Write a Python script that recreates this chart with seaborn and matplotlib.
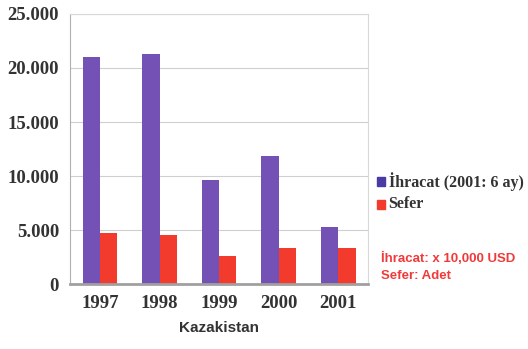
import pandas as pd
import seaborn as sns
import matplotlib.pyplot as plt

years = ["1997", "1998", "1999", "2000", "2001"]
ihracat = [21000, 21300, 9600, 11900, 5300]
sefer = [4700, 4500, 2600, 3300, 3300]
series_names = ["İhracat (2001: 6 ay)", "Sefer"]
yticks = [0, 5000, 10000, 15000, 20000, 25000]
ytick_labels = ["0", "5.000", "10.000", "15.000", "20.000", "25.000"]

df = pd.DataFrame({
    "yil": years * 2,
    "deger": ihracat + sefer,
    "seri": [series_names[0]] * len(years) + [series_names[1]] * len(years),
})

sns.set_style("white")
fig = plt.figure(figsize=(5.28, 3.49), dpi=100)
ax = fig.add_axes([0.133, 0.186, 0.564, 0.774])

palette = {series_names[0]: "#7351b5", series_names[1]: "#f23b2c"}
sns.barplot(data=df, x="yil", y="deger", hue="seri", palette=palette,
            width=0.58, saturation=1, edgecolor="none", ax=ax, legend=False)

ax.set_ylim(0, 25000)
ax.set_yticks(yticks)
ax.set_yticklabels(ytick_labels)
ax.yaxis.grid(True, color="#cfcfcf", lw=0.8)
ax.set_axisbelow(True)
for s in ["top", "right"]:
    ax.spines[s].set_color("#d8d8d8")
ax.spines["left"].set_color("#b0b0b0")
ax.spines["bottom"].set_color("#a0a0a0")
ax.spines["bottom"].set_linewidth(2)

for lab in ax.get_yticklabels() + ax.get_xticklabels():
    lab.set_fontfamily("Liberation Serif")
    lab.set_fontweight("bold")
    lab.set_fontsize(13.5)
    lab.set_color("#333333")
ax.tick_params(axis="y", length=4, color="#888888", pad=4)
ax.tick_params(axis="x", length=0, pad=8)
ax.set_ylabel("")
ax.set_xlabel("Kazakistan", fontsize=11, fontweight="bold", family="Liberation Sans",
              color="#333333", labelpad=6)

# legend
fig.patches.append(plt.Rectangle((0.714, 0.468), 0.016, 0.026, color="#4a3aa4",
                                 transform=fig.transFigure))
fig.patches.append(plt.Rectangle((0.714, 0.402), 0.016, 0.026, color="#f23b2c",
                                 transform=fig.transFigure))
fig.text(0.736, 0.481, series_names[0], family="Liberation Serif", weight="bold",
         size=11.5, color="#333333", va="center")
fig.text(0.736, 0.415, series_names[1], family="Liberation Serif", weight="bold",
         size=11.5, color="#333333", va="center")

fig.text(0.722, 0.26, "İhracat: x 10,000 USD", family="Liberation Sans", weight="bold",
         size=9.5, color="#f03a3a", va="center")
fig.text(0.722, 0.21, "Sefer: Adet", family="Liberation Sans", weight="bold",
         size=9.5, color="#f03a3a", va="center")

fig.savefig("out.png", dpi=100)
